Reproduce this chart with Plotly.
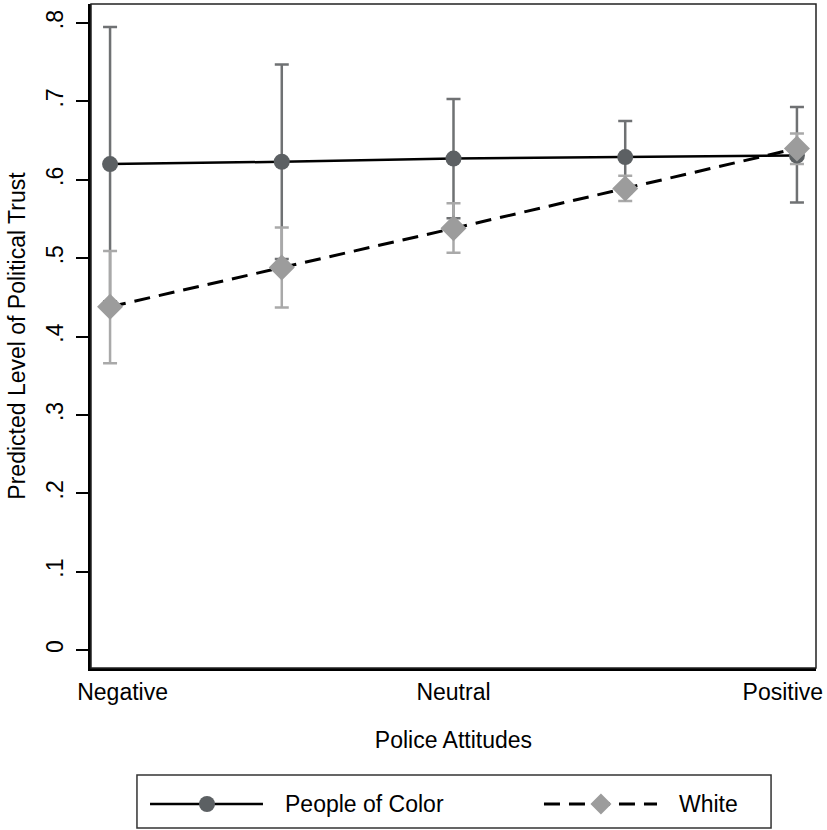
import plotly.graph_objects as go

# ---- data ----
x_pos = [1, 2, 3, 4, 5]
poc_mean = [0.620, 0.623, 0.627, 0.629, 0.631]
poc_lo = [0.445, 0.499, 0.551, 0.583, 0.571]
poc_hi = [0.795, 0.747, 0.703, 0.675, 0.693]
wh_mean = [0.438, 0.488, 0.538, 0.589, 0.640]
wh_lo = [0.366, 0.437, 0.507, 0.573, 0.620]
wh_hi = [0.509, 0.539, 0.570, 0.605, 0.659]

x_tickvals = [1.073, 3, 4.918]
x_ticktext = ["Negative", "Neutral", "Positive"]
y_tickvals = [0, 0.1, 0.2, 0.3, 0.4, 0.5, 0.6, 0.7, 0.8]
y_ticktext = ["0", ".1", ".2", ".3", ".4", ".5", ".6", ".7", ".8"]

series_names = ["People of Color", "White"]

FONT = "Liberation Sans, Arial, Helvetica, sans-serif"
POC_MARK = "#5c6063"
POC_ERR = "#6f7173"
WH_MARK = "#9c9c9c"
WH_ERR = "#a9a9a9"
DASH = "16px,9px"

fig = go.Figure()

# confidence intervals (drawn first)
fig.add_trace(go.Scatter(
    x=x_pos, y=poc_mean, mode="markers",
    marker=dict(size=1, opacity=0),
    error_y=dict(type="data", symmetric=False,
                 array=[h - m for h, m in zip(poc_hi, poc_mean)],
                 arrayminus=[m - l for m, l in zip(poc_mean, poc_lo)],
                 color=POC_ERR, thickness=2.5, width=7),
    showlegend=False, hoverinfo="skip"))
fig.add_trace(go.Scatter(
    x=x_pos, y=wh_mean, mode="markers",
    marker=dict(size=1, opacity=0),
    error_y=dict(type="data", symmetric=False,
                 array=[h - m for h, m in zip(wh_hi, wh_mean)],
                 arrayminus=[m - l for m, l in zip(wh_mean, wh_lo)],
                 color=WH_ERR, thickness=2.5, width=7),
    showlegend=False, hoverinfo="skip"))

# connected lines with markers
fig.add_trace(go.Scatter(
    x=x_pos, y=poc_mean, mode="lines+markers", name=series_names[0],
    line=dict(color="black", width=2.5),
    marker=dict(symbol="circle", size=16, color=POC_MARK),
    showlegend=False))
fig.add_trace(go.Scatter(
    x=x_pos, y=wh_mean, mode="lines+markers", name=series_names[1],
    line=dict(color="black", width=3, dash=DASH),
    marker=dict(symbol="diamond", size=20, color=WH_MARK),
    showlegend=False))

# ---- frame and custom legend (paper coordinates) ----
LEG_Y = -0.2048
shapes = [
    dict(type="rect", xref="paper", yref="paper", x0=0, x1=1, y0=0, y1=1,
         line=dict(color="#222222", width=1.5), layer="above"),
    # legend box
    dict(type="rect", xref="paper", yref="paper", x0=0.0634, x1=0.938,
         y0=-0.241, y1=-0.161, line=dict(color="#333333", width=1.5)),
    # POC sample
    dict(type="line", xref="paper", yref="paper", x0=0.0814, x1=0.2372,
         y0=LEG_Y, y1=LEG_Y, line=dict(color="black", width=2.5)),
    dict(type="circle", xref="paper", yref="paper", xsizemode="pixel",
         ysizemode="pixel", xanchor=0.160, yanchor=LEG_Y,
         x0=-8, x1=8, y0=-8, y1=8, fillcolor=POC_MARK,
         line=dict(width=0)),
    # White sample
    dict(type="line", xref="paper", yref="paper", x0=0.6248, x1=0.7807,
         y0=LEG_Y, y1=LEG_Y, line=dict(color="black", width=3, dash=DASH)),
    dict(type="path", xref="paper", yref="paper", xsizemode="pixel",
         ysizemode="pixel", xanchor=0.7034, yanchor=LEG_Y,
         path="M 0,-10.5 L 10.5,0 L 0,10.5 L -10.5,0 Z", fillcolor=WH_MARK,
         line=dict(width=0)),
]
annotations = [
    dict(xref="paper", yref="paper", x=0.2648, y=LEG_Y, xanchor="left",
         yanchor="middle", text=series_names[0], showarrow=False,
         font=dict(family=FONT, size=23, color="black")),
    dict(xref="paper", yref="paper", x=0.8083, y=LEG_Y, xanchor="left",
         yanchor="middle", text=series_names[1], showarrow=False,
         font=dict(family=FONT, size=23, color="black")),
]

fig.update_layout(
    width=827, height=830,
    margin=dict(l=91, r=11, t=4, b=162),
    paper_bgcolor="white", plot_bgcolor="white",
    font=dict(family=FONT, size=23, color="black"),
    shapes=shapes, annotations=annotations,
    showlegend=False,
    xaxis=dict(range=[0.889, 5.111], tickvals=x_tickvals, ticktext=x_ticktext,
               showgrid=False, zeroline=False, showline=True,
               linecolor="black", linewidth=2.5, ticks="",
               ticklabelstandoff=2,
               title=dict(text="Police Attitudes", standoff=28,
                          font=dict(size=23))),
    yaxis=dict(range=[-0.023, 0.8243], tickvals=y_tickvals, ticktext=y_ticktext,
               showgrid=False, zeroline=False, showline=True,
               linecolor="black", linewidth=2.5, ticks="outside",
               ticklen=12, tickwidth=1.5, tickcolor="black",
               tickangle=-90, ticklabelstandoff=4,
               title=dict(text="Predicted Level of Political Trust", standoff=10,
                          font=dict(size=23))),
)

fig.write_html("out.html",
               config={"displayModeBar": False},
               post_script="document.body.style.margin='0';document.body.style.padding='0';")
